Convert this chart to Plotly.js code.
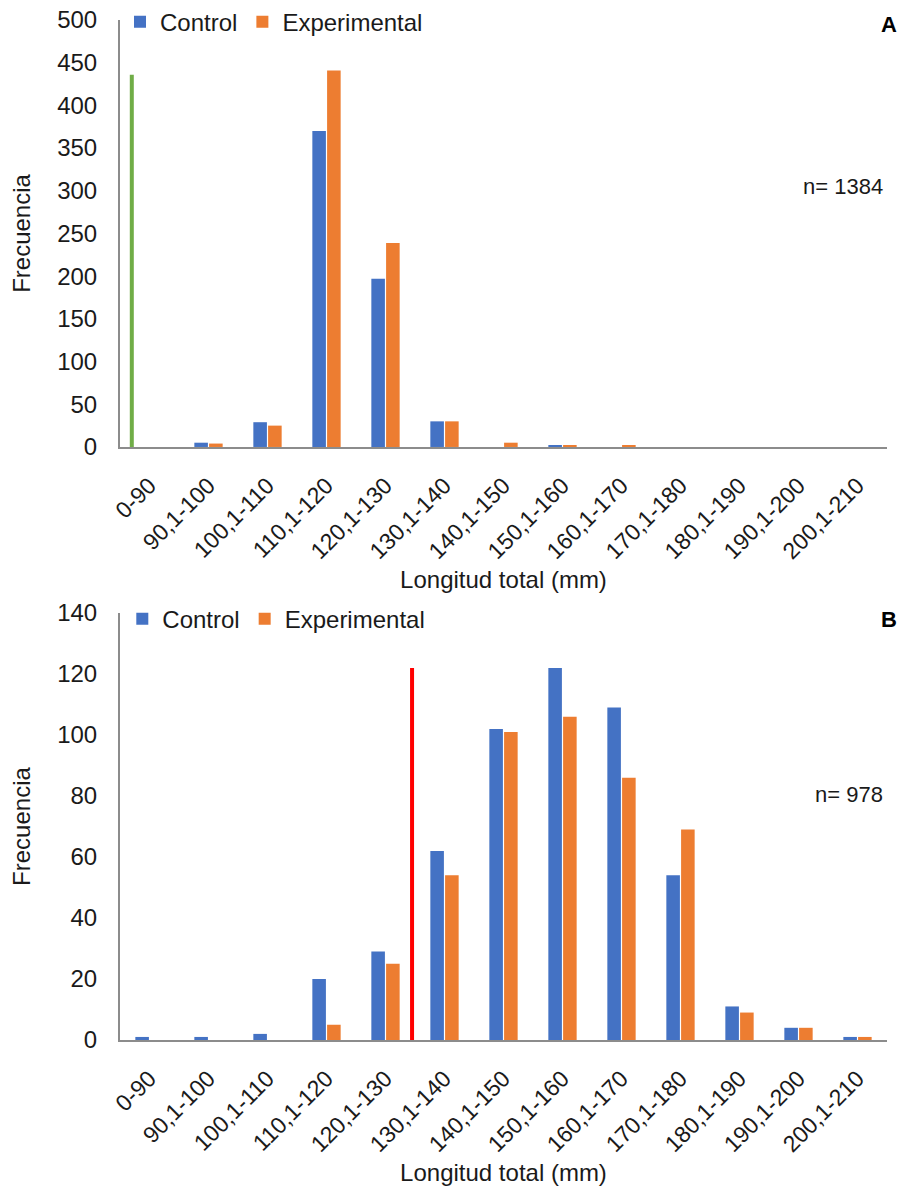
<!DOCTYPE html>
<html>
<head>
<meta charset="utf-8">
<script src="https://cdn.plot.ly/plotly-3.0.1.min.js"></script>
<style>
  html, body { margin: 0; padding: 0; background: #ffffff; }
  #chart { width: 901px; height: 1186px; }
</style>
</head>
<body>
<div id="chart"></div>
<script>
// ---- data ----
const categories = ['0-90', '90,1-100', '100,1-110', '110,1-120', '120,1-130', '130,1-140',
  '140,1-150', '150,1-160', '160,1-170', '170,1-180', '180,1-190', '190,1-200', '200,1-210'];

// Panel A
const controlA = [0, 5, 29, 370, 197, 30, 0, 2, 0, 0, 0, 0, 0];
const experimentalA = [0, 4, 25, 441, 239, 30, 5, 2, 2, 0, 0, 0, 0];
const markerLineA = { x: -0.3, y: [0, 436] };   // green reference line
const nTextA = 'n= 1384';

// Panel B
const controlB = [1, 1, 2, 20, 29, 62, 102, 122, 109, 54, 11, 4, 1];
const experimentalB = [0, 0, 0, 5, 25, 54, 101, 106, 86, 69, 9, 4, 1];
const markerLineB = { x: 4.45, y: [0, 122] };  // red reference line
const nTextB = 'n= 978';

const seriesNames = ['Control', 'Experimental'];
const yTicksA = [0, 50, 100, 150, 200, 250, 300, 350, 400, 450, 500];
const yTicksB = [0, 20, 40, 60, 80, 100, 120, 140];

// ---- styles ----
const FONT = 'Arial, "Liberation Sans", sans-serif';
const BLUE = '#4472C4', ORANGE = '#ED7D31', GREEN = '#70AD47', RED = '#FF0000';
const AXIS_GRAY = '#8C8C8C';

const traces = [
  { type: 'bar', name: seriesNames[0], x: categories, y: controlA, xaxis: 'x', yaxis: 'y',
    marker: { color: BLUE }, legend: 'legend', hoverinfo: 'x+y+name' },
  { type: 'bar', name: seriesNames[1], x: categories, y: experimentalA, xaxis: 'x', yaxis: 'y',
    marker: { color: ORANGE }, legend: 'legend', hoverinfo: 'x+y+name' },
  { type: 'bar', name: seriesNames[0], x: categories, y: controlB, xaxis: 'x2', yaxis: 'y2',
    marker: { color: BLUE }, legend: 'legend2', hoverinfo: 'x+y+name' },
  { type: 'bar', name: seriesNames[1], x: categories, y: experimentalB, xaxis: 'x2', yaxis: 'y2',
    marker: { color: ORANGE }, legend: 'legend2', hoverinfo: 'x+y+name' }
];

function xAxis(anchor) {
  return {
    type: 'category', categoryorder: 'array', categoryarray: categories,
    range: [-0.5, categories.length - 0.5], domain: [0, 1], anchor: anchor,
    showline: true, linecolor: AXIS_GRAY, linewidth: 2, showgrid: false, zeroline: false,
    ticks: '', tickangle: -45, ticklabelstandoff: 14,
    tickfont: { family: FONT, size: 23, color: '#1a1a1a' },
    title: { text: 'Longitud total (mm)', font: { family: FONT, size: 24, color: '#1a1a1a' }, standoff: 8 },
    fixedrange: true
  };
}
function yAxis(anchor, domain, ticks) {
  return {
    domain: domain, anchor: anchor, range: [ticks[0], ticks[ticks.length - 1]],
    tickvals: ticks, showline: true, linecolor: AXIS_GRAY, linewidth: 2,
    showgrid: false, zeroline: false, ticks: '', ticklabelstandoff: 16,
    tickfont: { family: FONT, size: 24, color: '#1a1a1a' },
    title: { text: 'Frecuencia', font: { family: FONT, size: 24, color: '#1a1a1a' }, standoff: 20 },
    fixedrange: true
  };
}

const legendCommon = {
  orientation: 'h', xanchor: 'left', yanchor: 'middle',
  font: { family: FONT, size: 24, color: '#1a1a1a' }, bgcolor: 'rgba(0,0,0,0)', traceorder: 'normal'
};

const layout = {
  width: 901, height: 1186,
  margin: { l: 120, r: 14, t: 20, b: 146, autoexpand: false },
  paper_bgcolor: '#ffffff', plot_bgcolor: '#ffffff',
  font: { family: FONT, color: '#1a1a1a' },
  barmode: 'group', bargap: 0.5, bargroupgap: 0.08,
  xaxis: xAxis('y'),
  yaxis: yAxis('x', [0.5814, 1], yTicksA),
  xaxis2: xAxis('y2'),
  yaxis2: yAxis('x2', [0, 0.4186], yTicksB),
  legend: Object.assign({}, legendCommon, { x: 0.0, y: 0.998 }),
  legend2: Object.assign({}, legendCommon, { x: 0.003, y: 0.4127 }),
  shapes: [
    { type: 'line', xref: 'x', yref: 'y', x0: markerLineA.x, x1: markerLineA.x,
      y0: markerLineA.y[0], y1: markerLineA.y[1], line: { color: GREEN, width: 4 } },
    { type: 'line', xref: 'x2', yref: 'y2', x0: markerLineB.x, x1: markerLineB.x,
      y0: markerLineB.y[0], y1: markerLineB.y[1], line: { color: RED, width: 4 } }
  ],
  annotations: [
    { xref: 'x domain', yref: 'y domain', x: 1.016, y: 0.99, xanchor: 'right', yanchor: 'middle',
      text: '<b>A</b>', showarrow: false, font: { family: FONT, size: 22, color: '#000' } },
    { xref: 'x domain', yref: 'y domain', x: 0.998, y: 0.609, xanchor: 'right', yanchor: 'middle',
      text: nTextA, showarrow: false, font: { family: FONT, size: 22, color: '#1a1a1a' } },
    { xref: 'x2 domain', yref: 'y2 domain', x: 1.016, y: 0.984, xanchor: 'right', yanchor: 'middle',
      text: '<b>B</b>', showarrow: false, font: { family: FONT, size: 22, color: '#000' } },
    { xref: 'x2 domain', yref: 'y2 domain', x: 0.997, y: 0.574, xanchor: 'right', yanchor: 'middle',
      text: nTextB, showarrow: false, font: { family: FONT, size: 22, color: '#1a1a1a' } }
  ],
  showlegend: true
};

Plotly.newPlot('chart', traces, layout, { displayModeBar: false });
</script>
</body>
</html>
